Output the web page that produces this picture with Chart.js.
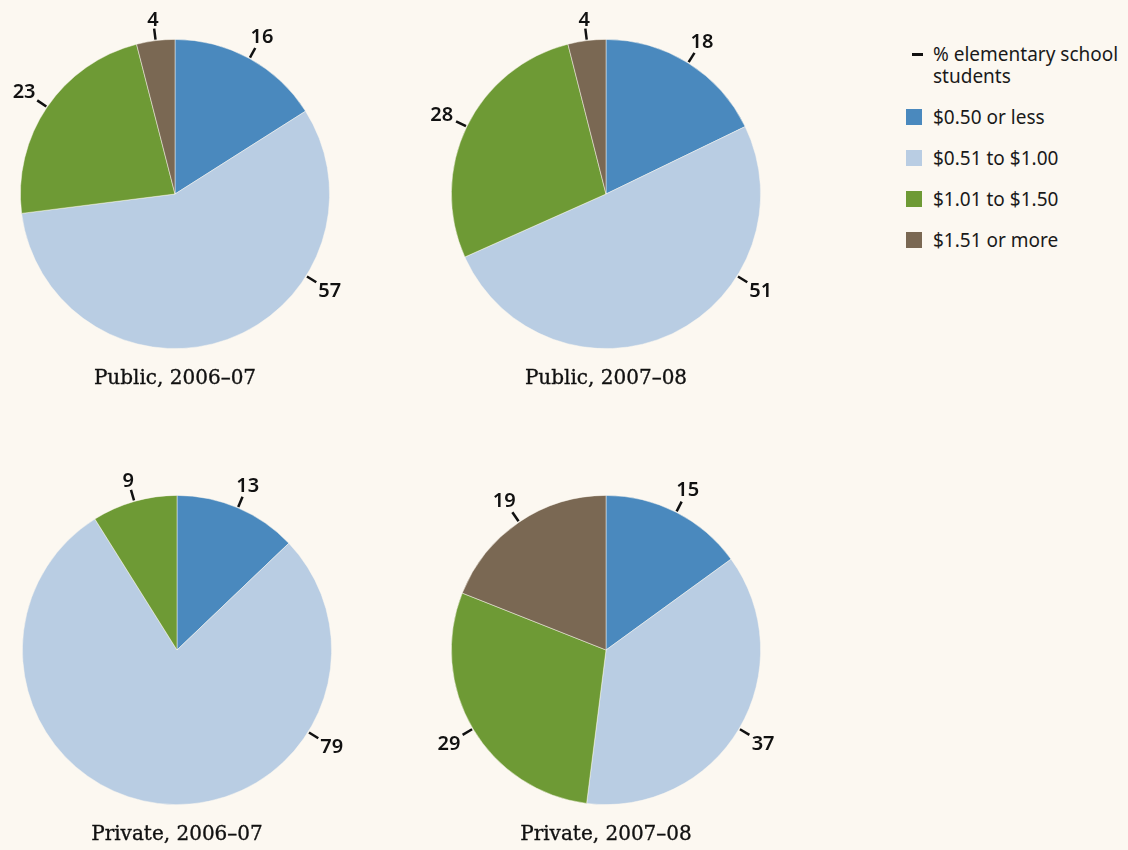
<!DOCTYPE html>
<html>
<head>
<meta charset="utf-8">
<script src="https://cdn.jsdelivr.net/npm/chart.js@4"></script>
<style>
  body { margin: 0; background: #fcf8f1; width: 1128px; height: 850px; overflow: hidden; position: relative; }
  canvas { position: absolute; }
  .title { position: absolute; width: 300px; text-align: center; font-family: "DejaVu Serif", serif; font-size: 20px; color: #111; -webkit-text-stroke: 0.35px #111; }
  #legend { position: absolute; left: 906px; top: 43px; font-family: "Noto Sans", sans-serif; font-size: 19px; color: #1a1a1a; }
  .row { position: relative; height: 41px; line-height: 22px; padding-left: 27px; }
  .sw { position: absolute; left: 0; top: 3px; width: 16px; height: 16px; }
  .dash { position: absolute; left: 6px; top: 10px; width: 11px; height: 3px; background: #111; }
</style>
</head>
<body>
<canvas id="c0" width="400" height="400" style="left:-25px;top:-6px"></canvas>
<canvas id="c1" width="400" height="400" style="left:406px;top:-6px"></canvas>
<canvas id="c2" width="400" height="400" style="left:-23px;top:450px"></canvas>
<canvas id="c3" width="400" height="400" style="left:406px;top:450px"></canvas>
<div class="title" style="left:25px;top:365px">Public, 2006–07</div>
<div class="title" style="left:456px;top:365px">Public, 2007–08</div>
<div class="title" style="left:27px;top:821px">Private, 2006–07</div>
<div class="title" style="left:456px;top:821px">Private, 2007–08</div>
<div id="legend"></div>
<script>
var categories = ['$0.50 or less', '$0.51 to $1.00', '$1.01 to $1.50', '$1.51 or more'];
var colors = ['#4a89be', '#b9cde3', '#6e9a35', '#7a6853'];
var titles = ['Public, 2006–07', 'Public, 2007–08', 'Private, 2006–07', 'Private, 2007–08'];
var public0607 = [16, 57, 23, 4];
var public0708 = [18, 51, 28, 4];
var private0607 = [13, 79, 9, 0];
var private0708 = [15, 37, 29, 19];
var legendTitle = '% elementary school students';

// short tick marks + numbers outside each slice
var sliceLabels = {
  id: 'sliceLabels',
  afterDatasetsDraw: function(chart) {
    var ctx = chart.ctx;
    var meta = chart.getDatasetMeta(0);
    var values = chart.data.datasets[0].data;
    ctx.save();
    ctx.font = '600 20px "Noto Sans", sans-serif';
    ctx.textAlign = 'center';
    ctx.textBaseline = 'middle';
    ctx.fillStyle = '#111';
    ctx.strokeStyle = '#111';
    ctx.lineWidth = 2.5;
    meta.data.forEach(function(arc, i) {
      var v = values[i];
      if (!v) return;
      var a = (arc.startAngle + arc.endAngle) / 2;
      if (v > 40) a = -Math.PI / 2 + 122 * Math.PI / 180; // big slice: label lower right
      var r = arc.outerRadius;
      var c = Math.cos(a), s = Math.sin(a);
      ctx.beginPath();
      ctx.moveTo(arc.x + c * (r + 1), arc.y + s * (r + 1));
      ctx.lineTo(arc.x + c * (r + 12), arc.y + s * (r + 12));
      ctx.stroke();
      var txt = String(v);
      var w = ctx.measureText(txt).width;
      var d = r + 15 + Math.abs(c) * w / 2 + Math.abs(s) * 6;
      ctx.fillText(txt, arc.x + c * d, arc.y + s * d + 1);
    });
    ctx.restore();
  }
};

function makePie(id, values) {
  new Chart(document.getElementById(id).getContext('2d'), {
    type: 'pie',
    data: {
      labels: categories,
      datasets: [{
        data: values,
        backgroundColor: colors,
        borderColor: 'rgba(252,248,241,0.6)',
        borderWidth: 0.8
      }]
    },
    options: {
      responsive: false,
      animation: false,
      layout: { padding: 45 },
      plugins: { legend: { display: false }, tooltip: { enabled: false } }
    },
    plugins: [sliceLabels]
  });
}

makePie('c0', public0607);
makePie('c1', public0708);
makePie('c2', private0607);
makePie('c3', private0708);

// legend
var lg = document.getElementById('legend');
var html = '<div class="row" style="height:63px"><span class="dash"></span>% elementary school<br>students</div>';
categories.forEach(function(cat, i) {
  html += '<div class="row"><span class="sw" style="background:' + colors[i] + '"></span>' + cat + '</div>';
});
lg.innerHTML = html;
</script>
</body>
</html>
